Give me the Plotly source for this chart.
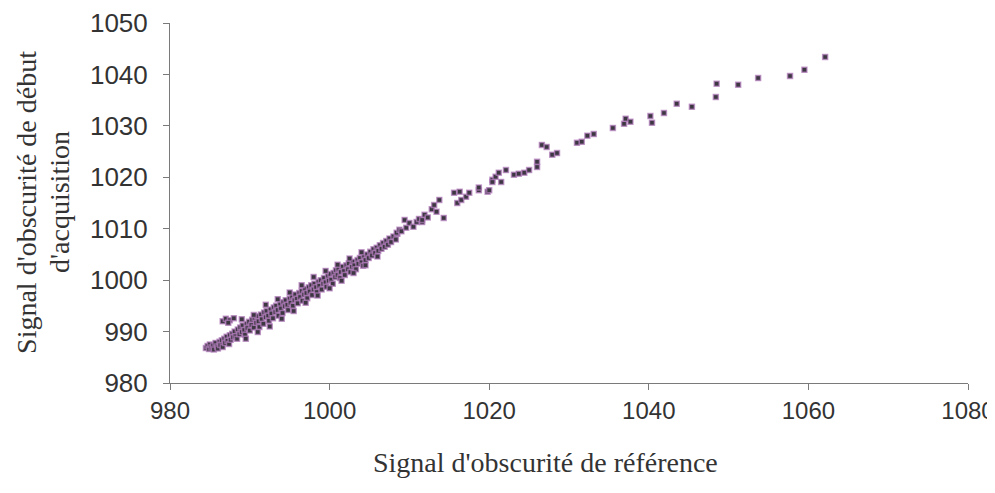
import plotly.graph_objects as go

# reference dark signal (x) vs dark signal at start of acquisition (y)
# dense band of points
band_x = [
    984.5, 984.7, 984.9, 985.0, 985.2, 985.4, 985.5, 985.7, 985.9, 986.0,
    986.2, 986.3, 986.5, 986.6, 986.8, 986.9, 987.1, 987.2, 987.4, 987.5,
    986.6, 987.0, 987.5, 988.0, 987.3,
    987.6, 987.8, 987.9, 988.1, 988.2, 988.4, 988.5, 988.7, 988.8, 989.0,
    989.1, 989.3, 989.4, 989.6, 989.7, 989.9, 990.0, 990.2, 990.3, 990.5,
    990.6, 990.8, 990.9, 991.1, 991.2, 991.4, 991.5, 991.7, 991.8, 992.0,
    992.1, 992.3, 992.4, 992.6, 992.7, 992.9, 993.0, 993.2, 993.3, 993.5,
    993.6, 993.8, 993.9, 994.1, 994.2, 994.4, 994.5, 994.7, 994.8, 995.0,
    995.1, 995.3, 995.4, 995.6, 995.7, 995.9, 996.0, 996.2, 996.3, 996.5,
    996.6, 996.8, 996.9, 997.1, 997.2, 997.4, 997.5, 997.7, 997.8, 998.0,
    998.1, 998.3, 998.4, 998.6, 998.7, 998.9, 999.0, 999.2, 999.3, 999.5,
    999.6, 999.8, 999.9, 1000.1, 1000.2, 1000.4,
    1000.5, 1000.7, 1000.8, 1001.0, 1001.1, 1001.3, 1001.4, 1001.6, 1001.8, 1001.9,
    1002.1, 1002.3, 1002.4, 1002.6, 1002.8, 1002.9, 1003.1, 1003.3, 1003.5, 1003.6,
    1003.8, 1004.0, 1004.2, 1004.3, 1004.5, 1004.7, 1004.9, 1005.1, 1005.3, 1005.5,
    1005.7, 1005.9, 1006.1, 1006.3, 1006.5, 1006.7, 1006.9, 1007.1, 1007.3, 1007.5,
    1007.7, 1008.0, 1008.3, 1008.5,
    # upper edge of the band
    989.0, 990.5, 992.0, 993.5, 995.0, 996.5, 998.0, 999.5, 1001.0, 1002.5, 1004.0,
    # lower edge of the band
    989.5, 991.0, 992.5, 994.0, 995.5, 997.0, 998.5, 1000.0, 1001.5, 1003.0, 1004.5, 1006.0,
]
band_y = [
    986.8, 987.2, 986.6, 987.5, 986.9, 987.3, 986.5, 987.8, 987.1, 986.7,
    988.0, 987.4, 988.3, 987.0, 988.6, 987.8, 989.0, 988.2, 987.6, 989.3,
    992.0, 992.5, 992.2, 992.6, 991.7,
    988.4, 989.6, 988.9, 990.0, 989.1, 988.6, 990.4, 989.5, 990.8, 989.9,
    991.2, 990.3, 989.4, 991.5, 990.7, 991.9, 990.2, 991.3, 992.3, 990.8,
    992.6, 991.7, 993.0, 992.0, 990.9, 993.3, 992.4, 991.5, 993.7, 992.8,
    994.0, 993.1, 992.1, 994.3, 993.5, 992.6, 994.7, 993.8, 995.0, 994.2,
    993.1, 995.3, 994.5, 993.6, 995.7, 994.9, 996.1, 995.2, 994.2, 996.4,
    995.6, 996.8, 995.0, 996.1, 997.2, 996.4, 995.5, 997.5, 996.7, 997.9,
    996.0, 997.2, 998.3, 997.5, 996.5, 998.6, 997.8, 999.0, 997.1, 998.2,
    999.3, 998.6, 997.7, 999.7, 998.9, 1000.0, 998.2, 999.3, 1000.4, 999.6,
    998.7, 1000.8, 999.9, 1001.2, 1000.1, 999.3,
    1001.4, 1000.6, 1001.9, 1001.0, 1002.2, 1000.4, 1001.6, 1002.6, 1001.8, 1001.0,
    1002.9, 1002.1, 1003.3, 1001.6, 1002.6, 1003.6, 1002.9, 1002.1, 1003.9, 1003.2,
    1004.3, 1003.5, 1002.8, 1004.6, 1003.9, 1005.0, 1004.3, 1005.5, 1004.8, 1006.0,
    1005.3, 1006.3, 1005.7, 1006.8, 1006.1, 1007.2, 1006.5, 1007.6, 1006.9, 1008.1,
    1007.4, 1008.5, 1007.9, 1009.0,
    992.4, 993.2, 995.2, 996.3, 997.6, 999.0, 1000.6, 1001.8, 1003.0, 1004.2, 1005.4,
    988.6, 989.9, 991.0, 992.5, 994.0, 995.6, 997.0, 998.4, 999.9, 1001.4, 1002.9, 1004.6,
]

# sparser points at higher signal
sparse_x = [
    1008.4, 1008.75, 1009.0, 1009.4, 1009.6, 1010.0, 1010.5, 1010.9, 1011.2, 1011.6,
    1011.6, 1011.9, 1012.3, 1012.8, 1013.1, 1013.4, 1013.75, 1014.3, 1015.6, 1016.0,
    1016.3, 1016.5, 1017.1, 1017.5, 1018.7, 1018.7, 1019.8, 1020.0, 1020.4, 1020.4,
    1020.8, 1021.2, 1021.5, 1022.1, 1023.1, 1023.7, 1024.4, 1025.0, 1026.0, 1026.0,
    1026.6, 1027.2, 1027.9, 1028.5, 1031.0, 1031.6, 1032.3, 1033.1, 1035.5, 1036.9,
    1037.1, 1037.7, 1040.2, 1040.4, 1041.9, 1043.5, 1045.4, 1048.4, 1048.5, 1051.2,
    1053.7, 1057.7, 1059.5, 1062.1,
]
sparse_y = [
    1009.2, 1009.8, 1009.5, 1011.7, 1010.2, 1011.1, 1010.4, 1011.3, 1011.9, 1011.3,
    1011.7, 1012.7, 1012.2, 1013.8, 1014.6, 1013.3, 1015.6, 1012.1, 1017.0, 1015.0,
    1017.2, 1015.6, 1016.2, 1017.0, 1017.5, 1018.0, 1017.2, 1017.5, 1019.5, 1019.1,
    1020.1, 1020.9, 1019.1, 1021.4, 1020.5, 1020.7, 1020.9, 1021.4, 1022.0, 1023.0,
    1026.3, 1025.9, 1024.4, 1024.7, 1026.7, 1026.9, 1028.1, 1028.4, 1029.6, 1030.4,
    1031.4, 1030.8, 1031.9, 1030.6, 1032.5, 1034.3, 1033.7, 1035.6, 1038.2, 1038.0,
    1039.3, 1039.7, 1040.9, 1043.4,
]

x_ticks = [980, 1000, 1020, 1040, 1060, 1080]
y_ticks = [980, 990, 1000, 1010, 1020, 1030, 1040, 1050]

fig = go.Figure()
fig.add_trace(go.Scatter(
    x=band_x + sparse_x,
    y=band_y + sparse_y,
    mode="markers",
    marker=dict(symbol="square", size=5, color="#3d3742",
                line=dict(color="rgba(180,125,190,0.7)", width=1.5)),
    showlegend=False,
))

axis_common = dict(
    showgrid=False, zeroline=False, showline=True, automargin=False,
    linecolor="#7a7a7a", linewidth=1,
    ticks="outside", ticklen=6, tickcolor="#7a7a7a",
    ticklabeloverflow="allow",
)
tick_font = dict(family="Liberation Sans, Arial", size=24, color="#333333")

fig.update_xaxes(range=[980, 1080], tickvals=x_ticks, tickfont=tick_font, **axis_common)
fig.update_yaxes(range=[980, 1050], tickvals=y_ticks, ticklabelstandoff=10,
                 tickfont=dict(tick_font, size=26), **axis_common)

title_font = dict(family="Liberation Serif, Times New Roman", size=28, color="#333333")

# y title, two lines placed separately
fig.add_annotation(
    text="Signal d'obscurité de début",
    xref="paper", yref="paper", x=-0.1792, y=0.503,
    xanchor="center", yanchor="middle", textangle=-90,
    showarrow=False, font=title_font,
)
fig.add_annotation(
    text="d'acquisition",
    xref="paper", yref="paper", x=-0.1378, y=0.503,
    xanchor="center", yanchor="middle", textangle=-90,
    showarrow=False, font=title_font,
)
fig.add_annotation(
    text="Signal d'obscurité de référence",
    xref="paper", yref="paper", x=0.471, y=-0.222,
    xanchor="center", yanchor="middle",
    showarrow=False, font=title_font,
)

# the page adds an 8px body margin, so the figure is sized to fit inside it
fig.update_layout(
    width=987, height=485,
    paper_bgcolor="white", plot_bgcolor="white",
    margin=dict(l=162, r=27, t=15, b=110),
)

fig.write_html("out.html")
